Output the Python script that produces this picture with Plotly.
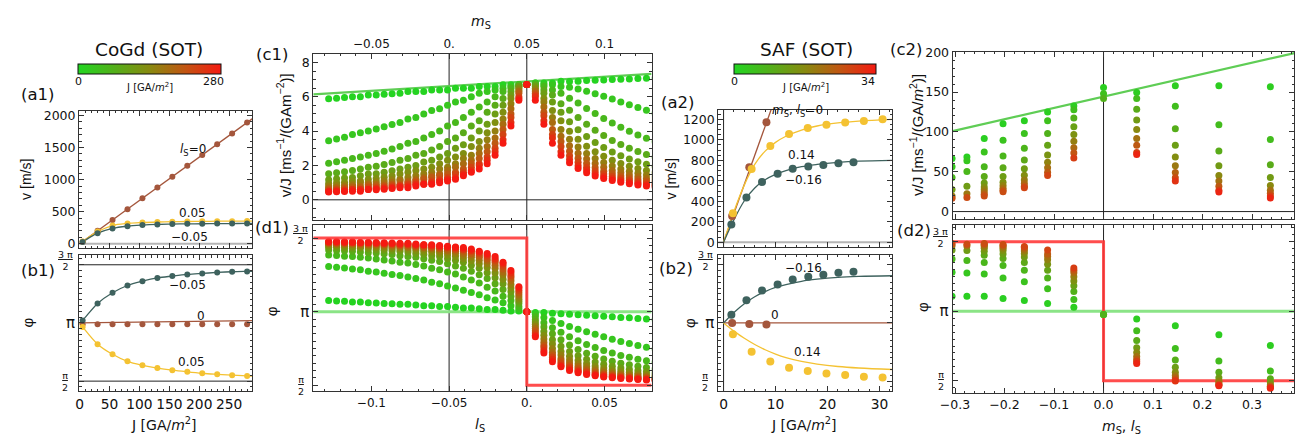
import plotly.graph_objects as go

W, H = 1307, 441
FONT = "DejaVu Sans, Verdana, sans-serif"
VFONT = "Liberation Sans, Arial, Helvetica, sans-serif"
FRAME = "#333333"
TXT = "#111111"
BROWN = "#a4563c"
YELLOW = "#f4c232"
TEAL = "#3e625e"
GREEN_LINE = "#5fcd55"
PALE_GREEN = "#8be487"
RED_LINE = "#ff3a3a"
CSCALE = [[0.0, "#22d622"], [0.25, "#52b01a"], [0.5, "#888a10"], [0.75, "#c25512"], [1.0, "#f51a12"]]

# ================= CoGd (SOT): panels a1 / b1 =================
J_cogd = [5, 30, 55, 80, 105, 130, 155, 180, 205, 230, 255, 280]
v_cogd_ls0 = [34, 203, 371, 540, 709, 878, 1046, 1215, 1384, 1553, 1721, 1890]
v_cogd_ls005 = [35, 190, 285, 318, 332, 340, 345, 348, 350, 352, 353, 354]
v_cogd_lsm005 = [30, 165, 240, 275, 292, 302, 307, 311, 313, 315, 316, 317]
phi_cogd_ls0 = [0.988, 0.988, 0.988, 0.988, 0.988, 0.988, 0.988, 0.988, 0.988, 0.988, 0.988, 0.988]
phi_cogd_ls005 = [0.966, 0.818, 0.731, 0.670, 0.636, 0.612, 0.594, 0.580, 0.568, 0.559, 0.551, 0.545]
phi_cogd_lsm005 = [1.022, 1.168, 1.260, 1.322, 1.359, 1.387, 1.403, 1.417, 1.426, 1.434, 1.440, 1.443]
curve_J_cogd = [0, 5, 30, 55, 80, 105, 130, 155, 180, 205, 230, 255, 280, 289]
curve_v_ls005 = [0, 35, 190, 285, 318, 332, 340, 345, 348, 350, 352, 353, 354, 354]
curve_v_lsm005 = [0, 30, 165, 240, 275, 292, 302, 307, 311, 313, 315, 316, 317, 317]
curve_phi_ls005 = [1.0, 0.966, 0.818, 0.731, 0.670, 0.636, 0.612, 0.594, 0.580, 0.568, 0.559, 0.551, 0.545, 0.543]
curve_phi_lsm005 = [1.0, 1.022, 1.168, 1.260, 1.322, 1.359, 1.387, 1.403, 1.417, 1.426, 1.434, 1.440, 1.443, 1.444]
line_J_ls0 = [0, 289]
line_v_ls0 = [0, 1951]
line_phi_ls0 = [1.0, 1.02]

# ================= CoGd (SOT): panels c1 / d1 =================
cogd_l = [-0.1275, -0.1224, -0.1173, -0.1122, -0.1071, -0.102, -0.0969, -0.0918, -0.0867, -0.0816,
          -0.0765, -0.0714, -0.0663, -0.0612, -0.0561, -0.051, -0.0459, -0.0408, -0.0357, -0.0306,
          -0.0255, -0.0204, -0.0153, -0.0102, -0.0051, 0.0,
          0.0055, 0.011, 0.0165, 0.022, 0.0275, 0.033, 0.0385, 0.044, 0.0495, 0.055,
          0.0605, 0.066, 0.0715, 0.077, 0.0825]
cogd_vJ = [
    [5.88, 3.44, 2.13, 1.52, 1.17, 0.95, 0.80, 0.69, 0.61, 0.54, 0.49, 0.45],
    [5.92, 3.54, 2.21, 1.58, 1.22, 0.99, 0.84, 0.72, 0.63, 0.57, 0.51, 0.47],
    [5.96, 3.65, 2.30, 1.64, 1.27, 1.03, 0.87, 0.75, 0.66, 0.59, 0.53, 0.49],
    [6.0, 3.8, 2.4, 1.7, 1.3, 1.1, 0.9, 0.8, 0.7, 0.6, 0.6, 0.5],
    [6.0, 3.9, 2.5, 1.8, 1.4, 1.1, 1.0, 0.8, 0.7, 0.6, 0.6, 0.5],
    [6.1, 4.0, 2.6, 1.9, 1.5, 1.2, 1.0, 0.9, 0.8, 0.7, 0.6, 0.6],
    [6.11, 4.12, 2.70, 1.96, 1.52, 1.24, 1.05, 0.91, 0.80, 0.71, 0.64, 0.59],
    [6.15, 4.25, 2.83, 2.06, 1.60, 1.31, 1.11, 0.96, 0.84, 0.75, 0.68, 0.62],
    [6.18, 4.39, 2.96, 2.17, 1.69, 1.38, 1.17, 1.01, 0.89, 0.80, 0.72, 0.66],
    [6.2, 4.5, 3.1, 2.3, 1.8, 1.5, 1.2, 1.1, 0.9, 0.8, 0.8, 0.7],
    [6.3, 4.7, 3.3, 2.4, 1.9, 1.6, 1.3, 1.1, 1.0, 0.9, 0.8, 0.7],
    [6.3, 4.8, 3.4, 2.6, 2.0, 1.7, 1.4, 1.2, 1.1, 1.0, 0.9, 0.8],
    [6.3, 5.0, 3.6, 2.7, 2.2, 1.8, 1.5, 1.3, 1.2, 1.0, 0.9, 0.9],
    [6.4, 5.2, 3.8, 2.9, 2.3, 1.9, 1.6, 1.4, 1.3, 1.1, 1.0, 0.9],
    [6.4, 5.3, 4.0, 3.1, 2.5, 2.1, 1.8, 1.5, 1.4, 1.2, 1.1, 1.0],
    [6.4, 5.5, 4.3, 3.4, 2.7, 2.3, 1.9, 1.7, 1.5, 1.3, 1.2, 1.1],
    [6.5, 5.7, 4.5, 3.6, 3.0, 2.5, 2.1, 1.9, 1.6, 1.5, 1.3, 1.2],
    [6.5, 5.8, 4.8, 3.9, 3.2, 2.7, 2.4, 2.1, 1.8, 1.6, 1.5, 1.4],
    [6.5, 6.0, 5.1, 4.3, 3.6, 3.1, 2.6, 2.3, 2.1, 1.9, 1.7, 1.6],
    [6.6, 6.2, 5.4, 4.6, 4.0, 3.4, 3.0, 2.7, 2.4, 2.1, 2.0, 1.8],
    [6.6, 6.3, 5.7, 5.1, 4.4, 3.9, 3.5, 3.1, 2.8, 2.5, 2.3, 2.1],
    [6.6, 6.4, 6.0, 5.5, 5.0, 4.5, 4.0, 3.6, 3.3, 3.0, 2.8, 2.6],
    [6.7, 6.5, 6.3, 5.9, 5.5, 5.1, 4.7, 4.4, 4.1, 3.8, 3.5, 3.3],
    [6.7, 6.6, 6.5, 6.3, 6.1, 5.9, 5.6, 5.3, 5.0, 4.8, 4.5, 4.3],
    [6.7, 6.7, 6.7, 6.6, 6.6, 6.5, 6.4, 6.3, 6.2, 6.0, 5.9, 5.8],
    [6.72, 6.72, 6.72, 6.72, 6.72, 6.72, 6.72, 6.72, 6.72, 6.72, 6.72, 6.72],
    [6.8, 6.8, 6.7, 6.7, 6.6, 6.5, 6.4, 6.3, 6.2, 6.1, 6.0, 5.8],
    [6.8, 6.7, 6.6, 6.4, 6.2, 5.9, 5.7, 5.4, 5.1, 4.9, 4.6, 4.4],
    [6.8, 6.7, 6.4, 6.1, 5.7, 5.2, 4.8, 4.5, 4.1, 3.8, 3.6, 3.3],
    [6.9, 6.6, 6.2, 5.6, 5.1, 4.6, 4.1, 3.7, 3.4, 3.1, 2.8, 2.6],
    [6.89, 6.56, 5.92, 5.21, 4.55, 3.99, 3.53, 3.15, 2.83, 2.57, 2.35, 2.16],
    [6.91, 6.45, 5.63, 4.79, 4.08, 3.52, 3.07, 2.71, 2.42, 2.19, 1.99, 1.83],
    [6.94, 6.32, 5.32, 4.40, 3.68, 3.12, 2.70, 2.37, 2.11, 1.90, 1.73, 1.58],
    [6.96, 6.18, 5.02, 4.05, 3.33, 2.80, 2.41, 2.11, 1.87, 1.68, 1.52, 1.39],
    [6.98, 6.03, 4.74, 3.74, 3.04, 2.54, 2.17, 1.89, 1.67, 1.50, 1.36, 1.24],
    [7.00, 5.87, 4.47, 3.46, 2.78, 2.31, 1.97, 1.71, 1.52, 1.36, 1.23, 1.12],
    [7.02, 5.70, 4.22, 3.22, 2.57, 2.12, 1.80, 1.57, 1.38, 1.24, 1.12, 1.02],
    [7.04, 5.54, 3.99, 3.00, 2.38, 1.96, 1.66, 1.44, 1.27, 1.14, 1.03, 0.94],
    [7.06, 5.37, 3.78, 2.81, 2.22, 1.82, 1.54, 1.34, 1.18, 1.05, 0.95, 0.87],
    [7.08, 5.21, 3.58, 2.64, 2.07, 1.70, 1.44, 1.24, 1.10, 0.98, 0.88, 0.81],
    [7.09, 5.04, 3.40, 2.49, 1.95, 1.59, 1.34, 1.16, 1.02, 0.91, 0.83, 0.75],
]
cogd_phi = [
    [1.075, 1.307, 1.385, 1.419, 1.438, 1.450, 1.458, 1.463, 1.468, 1.471, 1.474, 1.476],
    [1.073, 1.302, 1.381, 1.416, 1.436, 1.448, 1.456, 1.462, 1.467, 1.470, 1.473, 1.476],
    [1.070, 1.296, 1.377, 1.413, 1.433, 1.446, 1.454, 1.461, 1.465, 1.469, 1.472, 1.475],
    [1.065, 1.29, 1.375, 1.41, 1.43, 1.445, 1.455, 1.46, 1.465, 1.47, 1.47, 1.475],
    [1.065, 1.285, 1.37, 1.405, 1.43, 1.44, 1.45, 1.455, 1.465, 1.465, 1.47, 1.47],
    [1.06, 1.275, 1.365, 1.40, 1.425, 1.44, 1.45, 1.455, 1.46, 1.465, 1.47, 1.47],
    [1.059, 1.269, 1.357, 1.398, 1.421, 1.436, 1.446, 1.453, 1.459, 1.463, 1.467, 1.470],
    [1.056, 1.261, 1.351, 1.393, 1.417, 1.433, 1.443, 1.451, 1.457, 1.462, 1.465, 1.468],
    [1.054, 1.253, 1.344, 1.388, 1.413, 1.429, 1.440, 1.448, 1.455, 1.460, 1.463, 1.467],
    [1.05, 1.245, 1.335, 1.38, 1.41, 1.425, 1.435, 1.445, 1.45, 1.455, 1.46, 1.465],
    [1.05, 1.235, 1.33, 1.375, 1.405, 1.42, 1.435, 1.44, 1.45, 1.455, 1.46, 1.465],
    [1.045, 1.225, 1.32, 1.37, 1.395, 1.415, 1.43, 1.44, 1.445, 1.45, 1.455, 1.46],
    [1.04, 1.215, 1.31, 1.36, 1.39, 1.41, 1.425, 1.435, 1.44, 1.45, 1.455, 1.455],
    [1.04, 1.20, 1.295, 1.35, 1.38, 1.405, 1.42, 1.43, 1.435, 1.445, 1.45, 1.455],
    [1.035, 1.19, 1.285, 1.34, 1.375, 1.395, 1.41, 1.425, 1.43, 1.44, 1.445, 1.45],
    [1.035, 1.175, 1.27, 1.325, 1.36, 1.385, 1.405, 1.415, 1.425, 1.435, 1.44, 1.445],
    [1.03, 1.16, 1.255, 1.31, 1.35, 1.375, 1.395, 1.41, 1.42, 1.425, 1.435, 1.44],
    [1.025, 1.145, 1.235, 1.295, 1.335, 1.36, 1.38, 1.395, 1.41, 1.42, 1.425, 1.435],
    [1.025, 1.13, 1.215, 1.275, 1.315, 1.345, 1.37, 1.385, 1.395, 1.41, 1.415, 1.425],
    [1.02, 1.115, 1.195, 1.25, 1.295, 1.325, 1.35, 1.37, 1.38, 1.395, 1.405, 1.41],
    [1.015, 1.095, 1.165, 1.225, 1.265, 1.30, 1.325, 1.345, 1.36, 1.375, 1.385, 1.395],
    [1.015, 1.08, 1.14, 1.19, 1.23, 1.265, 1.295, 1.315, 1.335, 1.35, 1.36, 1.375],
    [1.01, 1.06, 1.105, 1.15, 1.19, 1.22, 1.25, 1.27, 1.29, 1.31, 1.325, 1.335],
    [1.005, 1.04, 1.075, 1.105, 1.135, 1.16, 1.185, 1.21, 1.23, 1.245, 1.265, 1.28],
    [1.005, 1.02, 1.035, 1.055, 1.07, 1.085, 1.10, 1.115, 1.13, 1.145, 1.16, 1.17],
    [1.0, 1.0, 1.0, 1.0, 1.0, 1.0, 1.0, 1.0, 1.0, 1.0, 1.0, 1.0],
    [0.995, 0.98, 0.965, 0.945, 0.93, 0.915, 0.90, 0.885, 0.87, 0.855, 0.84, 0.83],
    [0.995, 0.96, 0.925, 0.895, 0.865, 0.84, 0.815, 0.79, 0.77, 0.755, 0.735, 0.72],
    [0.99, 0.94, 0.89, 0.85, 0.81, 0.78, 0.75, 0.725, 0.705, 0.69, 0.675, 0.66],
    [0.985, 0.92, 0.86, 0.81, 0.765, 0.73, 0.705, 0.68, 0.665, 0.65, 0.635, 0.625],
    [0.983, 0.900, 0.829, 0.773, 0.730, 0.697, 0.671, 0.651, 0.635, 0.622, 0.611, 0.601],
    [0.979, 0.881, 0.802, 0.743, 0.701, 0.669, 0.646, 0.628, 0.614, 0.602, 0.593, 0.585],
    [0.976, 0.863, 0.777, 0.718, 0.677, 0.648, 0.627, 0.611, 0.598, 0.588, 0.580, 0.573],
    [0.972, 0.846, 0.756, 0.697, 0.658, 0.631, 0.612, 0.598, 0.586, 0.577, 0.570, 0.564],
    [0.969, 0.829, 0.736, 0.679, 0.642, 0.618, 0.600, 0.587, 0.577, 0.569, 0.562, 0.557],
    [0.965, 0.813, 0.719, 0.664, 0.629, 0.606, 0.590, 0.578, 0.569, 0.562, 0.556, 0.551],
    [0.961, 0.798, 0.703, 0.650, 0.618, 0.597, 0.582, 0.571, 0.563, 0.556, 0.551, 0.546],
    [0.958, 0.784, 0.690, 0.639, 0.609, 0.589, 0.575, 0.565, 0.557, 0.551, 0.546, 0.542],
    [0.954, 0.771, 0.677, 0.629, 0.600, 0.582, 0.569, 0.560, 0.553, 0.547, 0.543, 0.539],
    [0.950, 0.759, 0.666, 0.620, 0.593, 0.576, 0.564, 0.556, 0.549, 0.544, 0.539, 0.536],
    [0.947, 0.747, 0.657, 0.612, 0.587, 0.571, 0.560, 0.552, 0.545, 0.541, 0.537, 0.533],
]
c1_limit_l = [-0.1374, 0.0803]
c1_limit_vJ = [6.14, 7.33]
d1_limit_phi_J0 = [1.0, 1.0]
d1_step_l = [-0.1374, 0.0, 0.0, 0.0803]
d1_step_phi = [1.5, 1.5, 0.5, 0.5]

# ================= SAF (SOT): panels a2 / b2 =================
J_saf_ls0 = [1.65, 4.95, 8.25]
v_saf_ls0 = [257, 732, 1172]
phi_saf_ls0 = [1.0, 0.992, 0.986]
J_saf_p014 = [1.8, 5.4, 9.0, 12.6, 16.2, 19.8, 23.4, 27.0, 30.6]
v_saf_p014 = [284, 714, 940, 1057, 1115, 1147, 1169, 1185, 1200]
phi_saf_p014 = [0.902, 0.753, 0.669, 0.616, 0.588, 0.566, 0.552, 0.538, 0.532]
J_saf_m016 = [1.5, 4.4, 7.4, 10.4, 13.3, 16.3, 19.2, 22.1, 25.0]
v_saf_m016 = [172, 436, 589, 668, 717, 739, 755, 771, 780]
phi_saf_m016 = [1.07, 1.196, 1.28, 1.33, 1.373, 1.398, 1.415, 1.431, 1.44]
curve_J_saf = [0, 2, 4, 6, 8, 10, 12, 15, 18, 22, 26, 32.5]
curve_v_p014 = [0, 300, 560, 760, 890, 975, 1035, 1095, 1135, 1165, 1183, 1200]
curve_v_m016 = [0, 220, 405, 530, 610, 662, 700, 738, 760, 780, 792, 800]
curve_phi_p014 = [1.0, 0.93, 0.868, 0.815, 0.77, 0.733, 0.703, 0.67, 0.647, 0.626, 0.613, 0.6]
curve_phi_m016 = [1.0, 1.09, 1.165, 1.225, 1.27, 1.305, 1.33, 1.358, 1.376, 1.392, 1.4, 1.406]
line_J_saf_ls0 = [0, 9.4]
line_v_saf_ls0 = [0, 1330]
line_J_saf_ls0_phi = [0, 32.5]
line_phi_saf_ls0 = [1.0, 1.0]

# ================= SAF (SOT): panels c2 / d2 =================
saf_m = [-0.306, -0.276, -0.241, -0.203, -0.160, -0.113, -0.060, 0.0, 0.067, 0.145, 0.233, 0.337]
saf_J = [
    [1.5, 3.5, 7, 13, 20, 27],
    [1.5, 3.5, 7, 13, 20, 27],
    [1.5, 4.3, 7.1, 9.9, 12.7, 15.5, 18.3, 21.1, 23.9, 26.7],
    [1.5, 4.3, 7.1, 9.9, 12.7, 15.5, 18.3, 21.1, 23.9, 26.7],
    [1.5, 4.4, 7.4, 10.3, 13.3, 16.2, 19.2, 22.1, 25.0, 28.0],
    [1.6, 4.9, 8.2, 11.5, 14.8, 18.1, 21.4, 24.7, 28.0],
    [1.7, 5.1, 8.5, 11.9, 15.3, 18.7, 22.1, 25.5, 28.9],
    [1.65, 4.95, 8.25],
    [2.0, 5.8, 9.6, 13.4, 17.2, 21.0, 24.8, 28.6, 32.4],
    [1.8, 5.4, 9.0, 12.6, 16.2, 19.8, 23.4, 27.0, 30.6],
    [2.0, 5.8, 9.6, 13.4, 17.2, 21.0, 24.8, 28.6, 32.4],
    [2.0, 5.8, 9.6, 13.4, 17.2, 21.0, 24.8, 28.6, 32.4],
]
saf_vJ = [
    [66.5, 56.3, 42.9, 27.8, 19.6, 16.7],
    [68.6, 63.7, 50.2, 31.8, 22.4, 17.6],
    [91.8, 74.7, 56.3, 44.1, 35.9, 31.0, 27.8, 24.5, 21.6, 19.6],
    [110.2, 89.4, 69.8, 55.1, 44.1, 36.7, 32.7, 29.4, 26.9, 24.9],
    [113.9, 98.0, 79.6, 64.9, 53.9, 45.7, 39.6, 35.1, 31.8, 29.8],
    [124.9, 113.9, 98.0, 83.3, 71.0, 62.0, 55.1, 49.4, 45.3],
    [132.7, 127.8, 117.6, 106.5, 96.7, 88.2, 80.0, 73.5, 67.3],
    [155.9, 147.8, 142.0],
    [149.4, 142.0, 128.6, 115.1, 102.9, 91.8, 83.3, 74.3, 71.8],
    [158.0, 132.2, 104.1, 83.3, 68.6, 57.6, 49.0, 42.4, 38.4],
    [158.0, 109.0, 75.9, 57.6, 45.3, 38.4, 31.8, 26.9, 24.5],
    [156.7, 90.6, 58.8, 42.9, 32.7, 26.9, 22.9, 19.6, 17.1],
]
saf_phi = [
    [1.108, 1.28, 1.375, 1.44, 1.47, 1.487],
    [1.108, 1.274, 1.365, 1.436, 1.468, 1.482],
    [1.108, 1.267, 1.351, 1.403, 1.431, 1.452, 1.466, 1.475, 1.482, 1.487],
    [1.091, 1.239, 1.328, 1.379, 1.412, 1.436, 1.452, 1.464, 1.473, 1.48],
    [1.077, 1.211, 1.295, 1.351, 1.389, 1.415, 1.433, 1.447, 1.459, 1.466],
    [1.056, 1.162, 1.239, 1.295, 1.337, 1.37, 1.393, 1.412, 1.44],
    [1.028, 1.084, 1.141, 1.183, 1.218, 1.248, 1.276, 1.295, 1.311],
    [0.977, 0.977, 0.977],
    [0.944, 0.859, 0.789, 0.738, 0.703, 0.674, 0.653, 0.639, 0.625],
    [0.895, 0.733, 0.649, 0.597, 0.562, 0.539, 0.522, 0.508, 0.499],
    [0.831, 0.642, 0.562, 0.522, 0.499, 0.485, 0.475, 0.468, 0.464],
    [0.754, 0.571, 0.515, 0.487, 0.471, 0.461, 0.457, 0.452, 0.447],
]
c2_limit_m = [-0.305, 0.3856]
c2_limit_vJ = [101, 199]
d2_limit_phi_J0 = [1.0, 1.0]
d2_step_m = [-0.305, 0.0, 0.0, 0.3856]
d2_step_phi = [1.5, 1.5, 0.5, 0.5]

# ================= helpers =================
def dx(x0, x1):
    return [x0 / W, x1 / W]

def dy(y0, y1):
    return [1 - y1 / H, 1 - y0 / H]

def axis(domain, rng, anchor, tickvals=None, ticktext=None, labels=True, minor_dtick=None,
         mirror="ticks", tsize=12.5, **kw):
    d = dict(domain=domain, range=rng, anchor=anchor, showline=True, linecolor=FRAME, linewidth=1,
             mirror=mirror, ticks="inside", ticklen=5, tickwidth=1, tickcolor=FRAME,
             showgrid=False, zeroline=False, tickfont=dict(family=FONT, size=tsize, color=TXT),
             showticklabels=labels, fixedrange=True)
    if tickvals is not None:
        d["tickvals"] = tickvals
    if ticktext is not None:
        d["ticktext"] = ticktext
    if minor_dtick is not None:
        d["minor"] = dict(ticks="inside", ticklen=2.5, tickcolor=FRAME, dtick=minor_dtick, showgrid=False)
    d.update(kw)
    return d

fig = go.Figure()

def line(x, y, xa, ya, color, width=1.3, shape="spline", opacity=1.0):
    fig.add_trace(go.Scatter(x=x, y=y, xaxis=xa, yaxis=ya, mode="lines",
                             line=dict(color=color, width=width, shape=shape),
                             opacity=opacity, hoverinfo="skip", showlegend=False))

def dots(x, y, xa, ya, color, size):
    fig.add_trace(go.Scatter(x=x, y=y, xaxis=xa, yaxis=ya, mode="markers",
                             marker=dict(color=color, size=size, line=dict(width=0)),
                             hoverinfo="skip", showlegend=False))

# a1
line(line_J_ls0, line_v_ls0, "x", "y", BROWN, shape="linear")
line(curve_J_cogd, curve_v_ls005, "x", "y", YELLOW)
line(curve_J_cogd, curve_v_lsm005, "x", "y", TEAL)
dots(J_cogd, v_cogd_ls0, "x", "y", BROWN, 6)
dots(J_cogd, v_cogd_ls005, "x", "y", YELLOW, 6)
dots(J_cogd, v_cogd_lsm005, "x", "y", TEAL, 6)
# b1
line(line_J_ls0, line_phi_ls0, "x2", "y2", BROWN, shape="linear")
line(curve_J_cogd, curve_phi_ls005, "x2", "y2", YELLOW)
line(curve_J_cogd, curve_phi_lsm005, "x2", "y2", TEAL)
dots(J_cogd, phi_cogd_ls0, "x2", "y2", BROWN, 6)
dots(J_cogd, phi_cogd_ls005, "x2", "y2", YELLOW, 6)
dots(J_cogd, phi_cogd_lsm005, "x2", "y2", TEAL, 6)

# c1 / d1
line(c1_limit_l, c1_limit_vJ, "x3", "y3", GREEN_LINE, width=2.2, shape="linear")
line(c1_limit_l, d1_limit_phi_J0, "x5", "y5", PALE_GREEN, width=3, shape="linear")
c1x, c1y, c1c, d1y = [], [], [], []
for j, J in enumerate(J_cogd):
    for i, l in enumerate(cogd_l):
        c1x.append(l); c1y.append(cogd_vJ[i][j]); d1y.append(cogd_phi[i][j]); c1c.append(J)
fig.add_trace(go.Scatter(
    x=c1x, y=c1y, xaxis="x3", yaxis="y3", mode="markers", hoverinfo="skip", showlegend=False,
    marker=dict(color=c1c, colorscale=CSCALE, cmin=0, cmax=280, size=7, line=dict(width=0),
                showscale=True,
                colorbar=dict(orientation="h", x=138 / W, xanchor="center", y=1 - 58.3 / H, yanchor="top",
                              len=142.6, lenmode="pixels", thickness=10, thicknessmode="pixels",
                              xpad=0, ypad=0, outlinecolor="#111", outlinewidth=1,
                              showticklabels=False, ticks=""))))
fig.add_trace(go.Scatter(
    x=c1x, y=d1y, xaxis="x5", yaxis="y5", mode="markers", hoverinfo="skip", showlegend=False,
    marker=dict(color=c1c, colorscale=CSCALE, cmin=0, cmax=280, size=7, line=dict(width=0), showscale=False)))
line(d1_step_l, d1_step_phi, "x5", "y5", RED_LINE, width=3, shape="linear", opacity=0.9)
fig.add_trace(go.Scatter(x=[], y=[], xaxis="x4", yaxis="y3", mode="markers", showlegend=False, hoverinfo="skip"))

# a2
line(line_J_saf_ls0, line_v_saf_ls0, "x6", "y6", BROWN, shape="linear")
line(curve_J_saf, curve_v_p014, "x6", "y6", YELLOW)
line(curve_J_saf, curve_v_m016, "x6", "y6", TEAL)
dots(J_saf_ls0, v_saf_ls0, "x6", "y6", BROWN, 8)
dots(J_saf_p014, v_saf_p014, "x6", "y6", YELLOW, 8)
dots(J_saf_m016, v_saf_m016, "x6", "y6", TEAL, 8)
# b2
line(line_J_saf_ls0_phi, line_phi_saf_ls0, "x7", "y7", BROWN, shape="linear")
line(curve_J_saf, curve_phi_p014, "x7", "y7", YELLOW)
line(curve_J_saf, curve_phi_m016, "x7", "y7", TEAL)
dots(J_saf_ls0, phi_saf_ls0, "x7", "y7", BROWN, 8)
dots(J_saf_p014, phi_saf_p014, "x7", "y7", YELLOW, 8)
dots(J_saf_m016, phi_saf_m016, "x7", "y7", TEAL, 8)

# c2 / d2
line(c2_limit_m, c2_limit_vJ, "x8", "y8", GREEN_LINE, width=2.2, shape="linear")
line(c2_limit_m, d2_limit_phi_J0, "x9", "y9", PALE_GREEN, width=3, shape="linear")
line(d2_step_m, d2_step_phi, "x9", "y9", RED_LINE, width=3, shape="linear", opacity=0.9)
c2x, c2y, c2c, d2y = [], [], [], []
nmax = max(len(r) for r in saf_J)
for j in range(nmax):
    for i, m in enumerate(saf_m):
        if j < len(saf_J[i]):
            c2x.append(m); c2y.append(saf_vJ[i][j]); d2y.append(saf_phi[i][j]); c2c.append(saf_J[i][j])
fig.add_trace(go.Scatter(
    x=c2x, y=c2y, xaxis="x8", yaxis="y8", mode="markers", hoverinfo="skip", showlegend=False,
    marker=dict(color=c2c, colorscale=CSCALE, cmin=0, cmax=34, size=7, line=dict(width=0),
                showscale=True,
                colorbar=dict(orientation="h", x=799.85 / W, xanchor="center", y=1 - 58.3 / H, yanchor="top",
                              len=141.7, lenmode="pixels", thickness=10, thicknessmode="pixels",
                              xpad=0, ypad=0, outlinecolor="#111", outlinewidth=1,
                              showticklabels=False, ticks=""))))
fig.add_trace(go.Scatter(
    x=c2x, y=d2y, xaxis="x9", yaxis="y9", mode="markers", hoverinfo="skip", showlegend=False,
    marker=dict(color=c2c, colorscale=CSCALE, cmin=0, cmax=34, size=7, line=dict(width=0), showscale=False)))

# ================= axes =================
PHI_VALS = [0.5, 1.0, 1.5]
PHI_TEXT = ["", "π", ""]
lay = {}
lay["xaxis"] = axis(dx(66.7, 241.7), [-1, 288.7], "y", [0, 50, 100, 150, 200, 250], labels=False, minor_dtick=10)
lay["yaxis"] = axis(dy(106, 246.7), [-67, 2076], "x", [0, 500, 1000, 1500, 2000], minor_dtick=100)
lay["xaxis2"] = axis(dx(66.7, 241.7), [-1, 288.7], "y2", [0, 50, 100, 150, 200, 250], minor_dtick=10, tsize=13.8)
lay["yaxis2"] = axis(dy(254, 393.3), [0.412, 1.582], "x2", PHI_VALS, PHI_TEXT, minor_dtick=0.05, tsize=15)
lay["xaxis3"] = axis(dx(303.3, 645), [-0.1374, 0.0803], "y3", [-0.1, -0.05, 0, 0.05], labels=False,
                     minor_dtick=0.01, mirror=False)
lay["xaxis4"] = axis(dx(303.3, 645), [-0.0874, 0.1303], "y3", [-0.05, 0, 0.05, 0.1],
                     ["−0.05", "0.", "0.05", "0.1"], minor_dtick=0.01, mirror=False,
                     overlaying="x3", side="top", tsize=12)
lay["yaxis3"] = axis(dy(48, 218), [-1.178, 8.495], "x3", [0, 2, 4, 6, 8], minor_dtick=0.5)
lay["xaxis5"] = axis(dx(303.3, 645), [-0.1374, 0.0803], "y5", [-0.1, -0.05, 0, 0.05],
                     ["−0.1", "−0.05", "0.", "0.05"], minor_dtick=0.01, tsize=12)
lay["yaxis5"] = axis(dy(223.3, 393.3), [0.4585, 1.587], "x5", PHI_VALS, PHI_TEXT, minor_dtick=0.05, tsize=15)
lay["xaxis6"] = axis(dx(712.3, 888.3), [-1.03, 32.5], "y6", [0, 10, 20, 30], labels=False, minor_dtick=2)
lay["yaxis6"] = axis(dy(105, 246), [-51, 1295], "x6", [0, 200, 400, 600, 800, 1000, 1200], minor_dtick=50)
lay["xaxis7"] = axis(dx(712.3, 888.3), [-1.03, 32.5], "y7", [0, 10, 20, 30], minor_dtick=2, tsize=13.8)
lay["yaxis7"] = axis(dy(253.3, 393.3), [0.412, 1.588], "x7", PHI_VALS, PHI_TEXT, minor_dtick=0.05, tsize=15)
lay["xaxis8"] = axis(dx(949, 1294.3), [-0.305, 0.3856], "y8", [-0.3, -0.2, -0.1, 0, 0.1, 0.2, 0.3],
                     labels=False, minor_dtick=0.02)
lay["yaxis8"] = axis(dy(46, 217.3), [-9.8, 200.4], "x8", [0, 50, 100, 150, 200], minor_dtick=10)
lay["xaxis9"] = axis(dx(949, 1294.3), [-0.305, 0.3856], "y9", [-0.3, -0.2, -0.1, 0, 0.1, 0.2, 0.3],
                     ["−0.3", "−0.2", "−0.1", "0.0", "0.1", "0.2", "0.3"], minor_dtick=0.02)
lay["yaxis9"] = axis(dy(223.3, 395), [0.412, 1.618], "x9", PHI_VALS, PHI_TEXT, minor_dtick=0.05, tsize=15)

# ================= reference lines =================
def hline(yref, xref, yv, color="#222", width=1):
    return dict(type="line", xref=xref + " domain", x0=0, x1=1, yref=yref, y0=yv, y1=yv,
                line=dict(color=color, width=width), layer="below")

def vline(xref, yref, xv, color="#222", width=1):
    return dict(type="line", xref=xref, x0=xv, x1=xv, yref=yref + " domain", y0=0, y1=1,
                line=dict(color=color, width=width), layer="below")

shapes = [
    hline("y", "x", 0, "#b5b5b5", 2),
    hline("y2", "x2", 1.5), hline("y2", "x2", 0.5),
    vline("x3", "y3", -0.05), vline("x3", "y3", 0.0), hline("y3", "x3", 0),
    vline("x5", "y5", -0.05), vline("x5", "y5", 0.0),
    hline("y6", "x6", 0, "#b5b5b5", 2), vline("x6", "y6", 0),
    vline("x7", "y7", 0),
    vline("x8", "y8", 0), hline("y8", "x8", 0),
    vline("x9", "y9", 0),
]

# ================= text =================
def ann(text, x, y, size=12, angle=0, family=FONT):
    return dict(text=text, x=x / W, y=1 - y / H, xref="paper", yref="paper", showarrow=False,
                font=dict(family=family, size=size, color=TXT), textangle=angle,
                xanchor="center", yanchor="middle")

def vann(text, x, y, size=14):
    return ann(text, x, y, size, -90, VFONT)

def frac(text, x, yref, yv, shift):
    return dict(text=text, x=x / W, xref="paper", y=yv, yref=yref, yshift=shift, showarrow=False,
                font=dict(family=FONT, size=9.5, color=TXT), xanchor="center", yanchor="middle")

JUNIT = "J [GA/<i>m</i><sup>2</sup>]"
anns = [
    ann("CoGd (SOT)", 137.5, 43, 18.5), ann("SAF (SOT)", 801.5, 43, 18.5),
    ann("0", 66.5, 76, 11), ann("280", 203, 76, 11), ann(JUNIT, 138.3, 81.5, 10),
    ann("0", 729, 76, 11), ann("34", 864, 76, 11), ann(JUNIT, 800, 81.5, 10),
    ann("(a1)", 25, 90, 16.5), ann("(b1)", 25, 270, 16.5), ann("(c1)", 262, 49, 16.5), ann("(d1)", 262, 226, 16.5),
    ann("(a2)", 671, 98, 16.5), ann("(b2)", 670, 268, 16.5), ann("(c2)", 902, 43, 16.5), ann("(d2)", 910, 229, 16.5),
    vann("v [m/s]", 13, 176), vann("φ", 15, 323, 15), ann(JUNIT, 152.5, 427, 14),
    vann("v/J [ms<sup>−1</sup>/(GAm<sup>−2</sup>)]", 273, 131, 15),
    ann("<i>m</i><sub>S</sub>", 473, 15, 14), vann("φ", 262, 311, 15), ann("<i>l</i><sub>S</sub>", 472, 428, 14),
    vann("v [m/s]", 665, 176), vann("φ", 683, 323, 15), ann(JUNIT, 799, 427, 14),
    vann("v/J [ms<sup>−1</sup>/(GA/<i>m</i><sup>2</sup>)]", 912, 131, 15), vann("φ", 918, 307, 15),
    ann("<i>m</i><sub>S</sub>, <i>l</i><sub>S</sub>", 1120, 430, 14),
    ann("<i>l</i><sub>S</sub>=0", 181.7, 146.7), ann("0.05", 181.7, 210.7), ann("−0.05", 178.3, 235),
    ann("−0.05", 176.7, 284), ann("0", 190, 316), ann("0.05", 180, 363),
    ann("<i>m</i><sub>S</sub>, <i>l</i><sub>S</sub>=0", 792, 106), ann("0.14", 796, 151.7), ann("−0.16", 798, 176.7),
    ann("−0.16", 798, 266.7), ann("0", 770, 315), ann("0.14", 802, 353.3),
]
for yref, xpos in (("y2", 53), ("y5", 290.5), ("y7", 699), ("y9", 937)):
    anns.append(frac("<u>3 π</u><br>2", xpos, yref, 1.5, 4))
    anns.append(frac("<u>π</u><br>2", xpos, yref, 0.5, 0))

fig.update_layout(
    width=W, height=H, autosize=False, margin=dict(l=0, r=0, t=0, b=0),
    paper_bgcolor="white", plot_bgcolor="white", showlegend=False,
    font=dict(family=FONT, size=12.5, color=TXT),
    shapes=shapes, annotations=anns, **lay)

fig.write_html("out.html", config={"displayModeBar": False},
               post_script="document.body.style.margin='0';")
